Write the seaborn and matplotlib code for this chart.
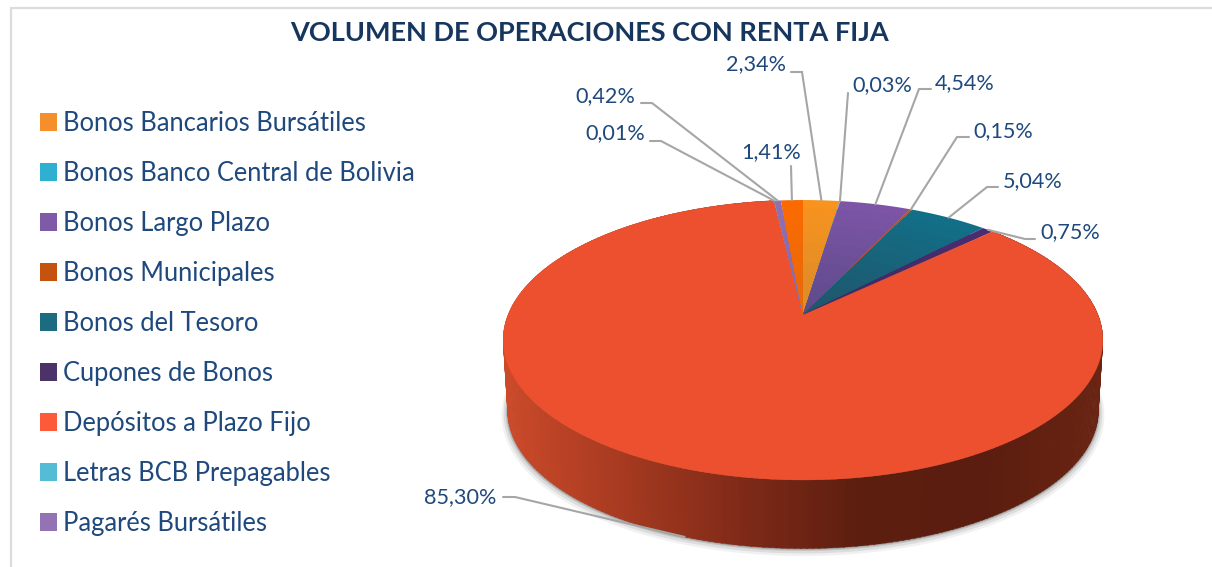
import numpy as np
import matplotlib
matplotlib.use("Agg")
import matplotlib.pyplot as plt
from matplotlib.patches import Patch
import seaborn as sns

sns.set_style("white")
plt.rcParams['font.family'] = ['Lato', 'DejaVu Sans']

# datos
titulo = "VOLUMEN DE OPERACIONES CON RENTA FIJA"
nombres = ["Bonos Bancarios Bursátiles", "Bonos Banco Central de Bolivia", "Bonos Largo Plazo",
           "Bonos Municipales", "Bonos del Tesoro", "Cupones de Bonos", "Depósitos a Plazo Fijo",
           "Letras BCB Prepagables", "Pagarés Bursátiles"]
# el ultimo sector (1,41%) no aparece en la leyenda del original
valores = [2.34, 0.03, 4.54, 0.15, 5.04, 0.75, 85.30, 0.01, 0.42, 1.41]
etiquetas = ["2,34%", "0,03%", "4,54%", "0,15%", "5,04%", "0,75%", "85,30%", "0,01%", "0,42%", "1,41%"]
colores_borde = ["#f7931e", "#2fa8c8", "#7d55a6", "#b8502a", "#126f87", "#4a2c72",
                 "#ec502e", "#4fb3cc", "#8f6fb2", "#fb6a00"]
colores_centro = ["#dd8b2a", "#2f8fae", "#5f4a8c", "#b8502a", "#1f566b", "#3d2a5e",
                  "#ec502e", "#4fb3cc", "#8a6aa8", "#e8690a"]
colores_leyenda = ["#f58f2c", "#2fb0d0", "#7f5aa6", "#c4530f", "#1c6b80", "#4b3268",
                   "#fc5a38", "#55bcd6", "#9473b4"]

# posicion de cada etiqueta y codo de su linea guia (pixeles)
pos_etiquetas = [(756, 64), (882, 85), (965, 83), (1003, 131), (1033, 181),
                 (1070, 232), (460, 497), (615, 133), (605, 96), (771, 152)]
codos = [[(791, 72), (802, 72)], [(848, 93)], [(931, 89), (919, 89)], [(969, 137), (957, 137)],
         [(998, 187), (987, 187)], [(1035, 239), (1025, 239)], [(503, 497), (515, 497)],
         [(650, 141), (661, 141)], [(641, 103), (652, 103)], [(791, 166)]]

# geometria de la torta en perspectiva
CX, CY = 803, 315
ANCHO, ALTO, PERSP = 295, 135.5, 0.1786
BAJADA, ESCALA = 71, 0.985


def aro(angulo, escala=1.0, bajada=0.0, radio=1.0):
    # angulo en grados, horario desde las 12
    a = np.radians(angulo)
    x, y = radio * np.sin(a), radio * np.cos(a)
    d = 1 + PERSP * y
    return CX + escala * ANCHO * x / d, CY + bajada - escala * ALTO * y / d


fig = plt.figure(figsize=(12.12, 5.67), dpi=100)
ax = fig.add_axes([0, 0, 1, 1])
ax.set_xlim(0, 1212)
ax.set_ylim(567, 0)
ax.axis("off")

# marco
ax.plot([11, 11, 1212], [567, 8, 8], color="#dcdcdc", lw=1.6, solid_joinstyle="miter")

limites = np.concatenate([[0], np.cumsum(valores)]) / sum(valores) * 360
vuelta = np.linspace(0, 360, 361)

# sombra bajo la torta
for extra, alfa in zip([6, 4, 2, 1], [0.07, 0.11, 0.16, 0.24]):
    sx, sy = aro(vuelta, ESCALA, BAJADA + extra * 0.6, 1 + extra / 300)
    ax.fill(sx, sy, color="#404040", alpha=alfa, lw=0)

# costado con degrade de izquierda a derecha
degrade = sns.blend_palette(["#cc4a2a", "#a63a20", "#7f2a18", "#5c1e0f", "#5a1d0f", "#6a2412"], 256)
i_dep = nombres.index("Depósitos a Plazo Fijo")
tiras = np.arange(limites[i_dep], limites[i_dep + 1], 1.0)
for a1 in tiras:
    a2 = min(a1 + 1.2, limites[i_dep + 1])
    x1, y1 = aro(a1)
    x2, y2 = aro(a2)
    x3, y3 = aro(a2, ESCALA, BAJADA)
    x4, y4 = aro(a1, ESCALA, BAJADA)
    t = (aro(a1)[0] - (CX - 300)) / 600
    ax.fill([x1, x2, x3, x4], [y1, y2, y3, y4], color=degrade[int(np.clip(t, 0, 1) * 255)], lw=0.3)

# cara superior, por bandas para el degrade de los sectores chicos
for k, v in enumerate(valores):
    ang = np.linspace(limites[k], limites[k + 1], max(3, int(v * 3.6) + 2))
    if colores_centro[k] == colores_borde[k]:
        xa, ya = aro(ang)
        ax.fill(np.r_[CX, xa], np.r_[CY, ya], color=colores_borde[k], lw=0.25)
        continue
    paleta = sns.blend_palette([colores_centro[k], colores_borde[k]], 12)
    for j in range(11, -1, -1):
        # de afuera hacia adentro, cada banda tapa a la siguiente sin dejar rendijas
        xa, ya = aro(ang, radio=(j + 1) / 12)
        ax.fill(np.r_[CX, xa], np.r_[CY, ya], color=paleta[j], lw=0)

# lineas guia
medios = (limites[:-1] + limites[1:]) / 2
for k, med in enumerate(medios):
    if k == i_dep:
        fin = aro(med, ESCALA, BAJADA)
    else:
        fin = aro(med)
    puntos = codos[k] + [fin]
    ax.plot([p[0] for p in puntos], [p[1] for p in puntos], color="#a6a6a6", lw=1.5, solid_joinstyle="miter")

# etiquetas
for texto, (px, py) in zip(etiquetas, pos_etiquetas):
    ax.text(px, py, texto, color="#1f497d", fontsize=15.6, ha="center", va="center")

ax.text(590, 33, titulo, color="#17365d", fontsize=19.5, fontweight="bold", ha="center", va="center")

# leyenda
manijas = [Patch(facecolor=c, edgecolor="none") for c in colores_leyenda]
ley = ax.legend(manijas, nombres, loc="upper left", bbox_to_anchor=(40 / 1212, 1 - 111 / 567),
                frameon=False, fontsize=18.4, labelcolor="#1f497d", handlelength=0.67, handleheight=0.67,
                handletextpad=0.24, labelspacing=0.978, borderpad=0, borderaxespad=0)

fig.savefig("out.png", dpi=100)
